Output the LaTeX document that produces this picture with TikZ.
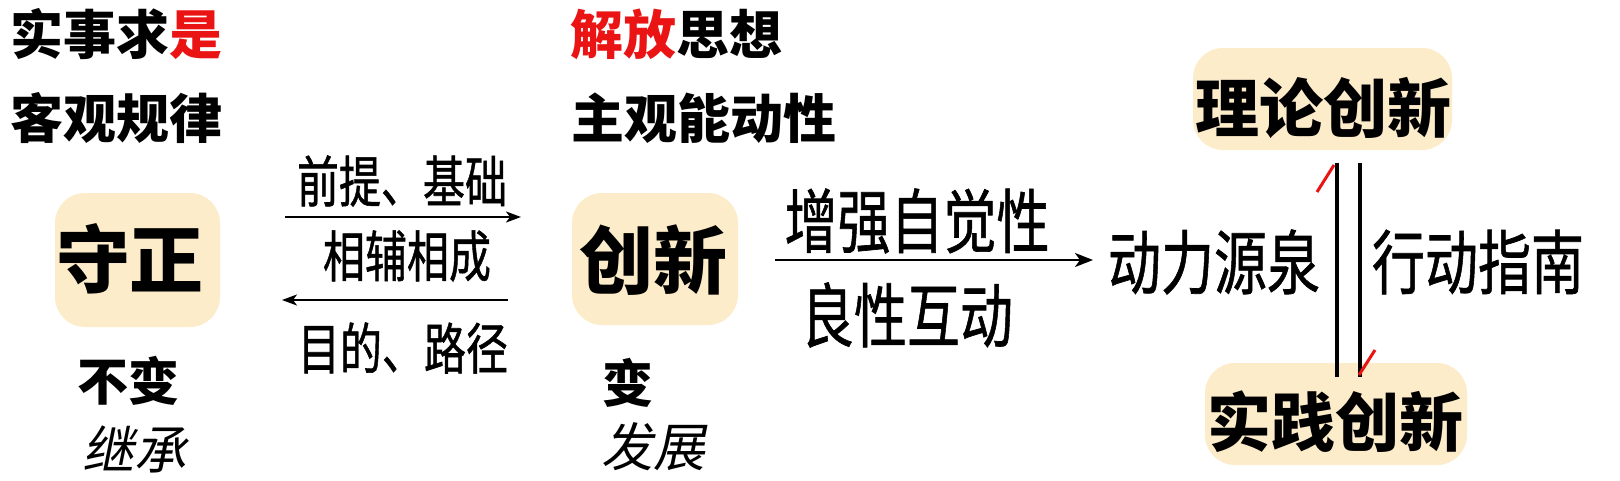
\documentclass[tikz,border=0pt]{standalone}
\usepackage{graphicx}
\usepackage{fontspec}
\newfontfamily\cjk{Noto Sans CJK SC}
\newfontfamily\cjkmed{Noto Sans CJK SC}[FakeBold=1]
\newfontfamily\cjkhand{Noto Sans CJK SC}[FakeSlant=0.2]
\usetikzlibrary{arrows.meta}
\definecolor{boxfill}{RGB}{252,236,202}
\definecolor{hired}{RGB}{235,20,20}
\newcommand{\tallx}[1]{\scalebox{1}[1.32]{#1}}
\tikzset{
  x=1pt,y=-1pt,
  txt/.style={inner sep=0pt,anchor=center,text=black},
  head/.style={txt,font=\cjk\bfseries\fontsize{53}{53}\selectfont},
  lab/.style={txt,font=\cjkmed\fontsize{42}{42}\selectfont},
  biglab/.style={txt,font=\cjkmed\fontsize{53}{53}\selectfont},
  hand/.style={txt,font=\cjkhand\fontsize{52}{52}\selectfont},
  boxlab/.style={txt,font=\cjk\bfseries\fontsize{74}{74}\selectfont},
  widelab/.style={txt,font=\cjk\bfseries\fontsize{64}{64}\selectfont},
  keybox/.style={fill=boxfill,rounded corners=30pt,draw=none},
  conn/.style={line width=2pt,-{Stealth[length=15pt,width=11pt,inset=4pt]}},
  bigconn/.style={line width=2.6pt,-{Stealth[length=18pt,width=14pt,inset=5pt]}},
  vline/.style={line width=4pt},
  tick/.style={line width=3pt,draw=hired}
}
\begin{document}
\begin{tikzpicture}
\useasboundingbox (0,0) rectangle (1620,480);
% boxes
\fill[keybox] (55,193) rectangle (220,327);
\fill[keybox] (572,193) rectangle (738,325);
\fill[keybox] (1193,48) rectangle (1452,150);
\fill[keybox] (1205,363) rectangle (1467,465);
% top texts
\node[head,anchor=west] (t1) at (10,34) {实事求\textcolor{hired}{是}};
\node[head,anchor=west] (t2) at (10,118) {客观规律};
\node[head,anchor=west] (t3) at (570,34) {\textcolor{hired}{解放}思想};
\node[head,anchor=west] (t4) at (571,118) {主观能动性};
% box labels
\node[boxlab] (sz) at (130,259) {守正};
\node[boxlab] (cx) at (653,260) {创新};
\node[widelab] (ll) at (1323,108) {理论创新};
\node[widelab] (sj) at (1335,422) {实践创新};
% below
\node[txt,font=\cjk\bfseries\fontsize{51}{51}\selectfont] (bb) at (128,381) {不变};
\node[hand] (jc) at (134,449) {继承};
\node[txt,font=\cjk\bfseries\fontsize{51}{51}\selectfont] (b) at (628,383) {变};
\node[hand] (fz) at (653,447) {发展};
% arrows between shouzheng and chuangxin
\coordinate (a1s) at (285,217);
\coordinate (a1e) at (521,217);
\coordinate (a2s) at (508,300);
\coordinate (a2e) at (282,300);
\draw[conn] (a1s) -- (a1e);
\draw[conn] (a2s) -- (a2e);
\node[lab] (l1) at (402,181) {\tallx{前提、基础}};
\node[lab] (l2) at (407,256) {\tallx{相辅相成}};
\node[lab] (l3) at (403,348) {\tallx{目的、路径}};
% arrow to right
\coordinate (a3s) at (775,260);
\coordinate (a3e) at (1093,260);
\draw[bigconn] (a3s) -- (a3e);
\node[biglab] (l4) at (917,221) {\tallx{增强自觉性}};
\node[biglab] (l5) at (907,315) {\tallx{良性互动}};
\node[biglab] (dl) at (1214,262) {\tallx{动力源泉}};
\node[biglab] (xd) at (1478,262) {\tallx{行动指南}};
% vertical lines
\coordinate (v1t) at (1337,163);
\coordinate (v1b) at (1337,377);
\coordinate (v2t) at (1360,163);
\coordinate (v2b) at (1360,377);
\draw[vline] (v1b) -- (v1t);
\draw[vline] (v2t) -- (v2b);
\draw[tick] (1317,192) -- (1334,165);
\draw[tick] (1359,375) -- (1375,350);
\end{tikzpicture}
\end{document}
